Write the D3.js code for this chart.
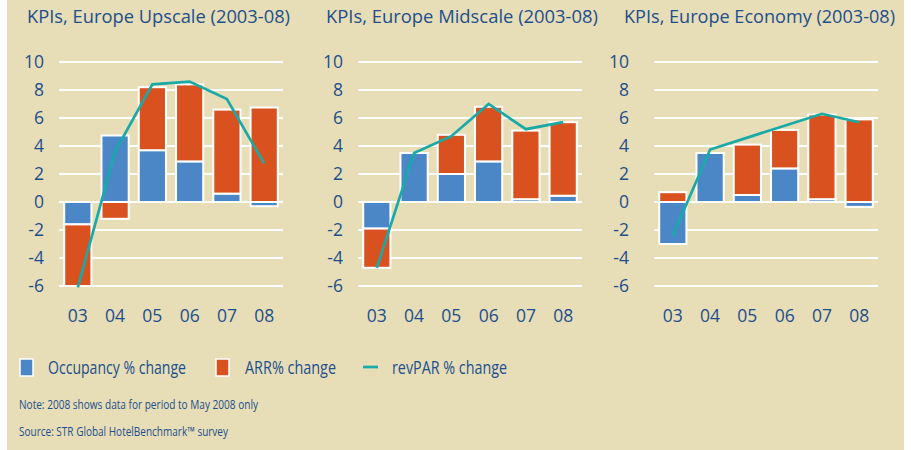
<!DOCTYPE html>
<html><head><meta charset="utf-8">
<script src="https://cdn.jsdelivr.net/npm/d3@7"></script>
<style>body{margin:0;background:#fff}svg{display:block}text{font-family:"Open Sans",sans-serif;fill:#1d4f8e}</style>
</head><body>
<script>
const categories = ["03","04","05","06","07","08"];
const yTicks = [10,8,6,4,2,0,-2,-4,-6];
const panelTitles = ["KPIs, Europe Upscale (2003-08)","KPIs, Europe Midscale (2003-08)","KPIs, Europe Economy (2003-08)"];
const upscaleOcc = [-1.6, 4.75, 3.7, 2.9, 0.6, -0.3];
const upscaleArr = [-4.4, -1.2, 4.5, 5.5, 6.0, 6.75];
const upscaleRev = [-6.1, 3.6, 8.4, 8.6, 7.35, 2.75];
const midOcc = [-1.9, 3.5, 2.0, 2.9, 0.2, 0.45];
const midArr = [-2.8, 0, 2.8, 3.9, 4.9, 5.25];
const midRev = [-4.7, 3.5, 4.7, 7.0, 5.2, 5.7];
const ecoOcc = [-3.0, 3.5, 0.5, 2.4, 0.2, -0.35];
const ecoArr = [0.7, 0, 3.6, 2.75, 6.05, 5.9];
const ecoRev = [-2.4, 3.75, 4.6, 5.45, 6.3, 5.7];
const legendLabels = ["Occupancy % change","ARR% change","revPAR % change"];
const noteText = "Note: 2008 shows data for period to May 2008 only";
const sourceText = "Source: STR Global HotelBenchmark\u2122 survey";

const C = {bg:"#e7ddb6", occ:"#4b87c6", arr:"#d9511f", rev:"#19aaa8"};
const W=911,H=450;
const svg=d3.select("body").append("svg").attr("width",W).attr("height",H);
svg.append("rect").attr("x",7).attr("y",0).attr("width",897).attr("height",H).attr("fill",C.bg);

const panels=[
 {occ:upscaleOcc,arr:upscaleArr,rev:upscaleRev,x0:59,x1:283,lab:44,tx:27,tw:263},
 {occ:midOcc,arr:midArr,rev:midRev,x0:358,x1:582,lab:343,tx:326,tw:272},
 {occ:ecoOcc,arr:ecoArr,rev:ecoRev,x0:654,x1:878,lab:629,tx:624,tw:271}
];
const y=d3.scaleLinear().domain([-6,10]).range([286,62]);

panels.forEach((p,i)=>{
  const g=svg.append("g");
  const x=d3.scaleBand().domain(categories).range([p.x0,p.x1]).paddingInner(0.27).paddingOuter(0.14);
  g.append("text").attr("x",p.tx).attr("y",23).attr("font-size",17.5)
   .attr("textLength",p.tw).attr("lengthAdjust","spacingAndGlyphs").text(panelTitles[i]);
  g.selectAll("line.grid").data(yTicks).join("line")
   .attr("x1",p.x0).attr("x2",p.x1).attr("y1",d=>y(d)).attr("y2",d=>y(d))
   .attr("stroke","#fff").attr("stroke-width",2);
  g.selectAll("text.yl").data(yTicks).join("text")
   .attr("x",p.lab).attr("y",d=>y(d)).attr("dy","0.36em").attr("text-anchor","end")
   .attr("font-size",17.5).text(d=>d);
  const segs=[];
  categories.forEach((c,k)=>{
    let pos=0,neg=0;
    [[p.occ[k],C.occ],[p.arr[k],C.arr]].forEach(([v,col])=>{
      if(v===0) return;
      let a,b;
      if(v>0){a=pos;b=pos+v;pos=b;} else {a=neg;b=neg+v;neg=b;}
      segs.push({c,a,b,col});
    });
  });
  g.selectAll("rect.seg").data(segs).join("rect")
   .attr("x",d=>x(d.c)).attr("width",x.bandwidth())
   .attr("y",d=>y(Math.max(d.a,d.b))).attr("height",d=>Math.abs(y(d.a)-y(d.b)))
   .attr("fill",d=>d.col).attr("stroke","#fff").attr("stroke-width",2);
  const line=d3.line().x((d,k)=>x(categories[k])+x.bandwidth()/2).y(d=>y(d));
  g.append("path").attr("d",line(p.rev)).attr("fill","none").attr("stroke",C.rev).attr("stroke-width",2.7);
  g.selectAll("text.xl").data(categories).join("text")
   .attr("x",d=>x(d)+x.bandwidth()/2).attr("y",322).attr("text-anchor","middle")
   .attr("font-size",17.5).text(d=>d);
});

const lg=svg.append("g");
lg.append("rect").attr("x",20).attr("y",359).attr("width",13).attr("height",17).attr("fill",C.occ).attr("stroke","#fff").attr("stroke-width",1.5);
lg.append("text").attr("x",48).attr("y",367).attr("dy","0.36em").attr("font-size",18.5)
  .attr("textLength",138).attr("lengthAdjust","spacingAndGlyphs").text(legendLabels[0]);
lg.append("rect").attr("x",216).attr("y",359).attr("width",13).attr("height",17).attr("fill",C.arr).attr("stroke","#fff").attr("stroke-width",1.5);
lg.append("text").attr("x",245).attr("y",367).attr("dy","0.36em").attr("font-size",18.5)
  .attr("textLength",91).attr("lengthAdjust","spacingAndGlyphs").text(legendLabels[1]);
lg.append("line").attr("x1",363).attr("x2",378).attr("y1",367).attr("y2",367).attr("stroke",C.rev).attr("stroke-width",2.7);
lg.append("text").attr("x",392).attr("y",367).attr("dy","0.36em").attr("font-size",18.5)
  .attr("textLength",115).attr("lengthAdjust","spacingAndGlyphs").text(legendLabels[2]);
svg.append("text").attr("x",19).attr("y",404).attr("dy","0.36em").attr("font-size",13)
  .attr("textLength",239).attr("lengthAdjust","spacingAndGlyphs").text(noteText);
svg.append("text").attr("x",19).attr("y",431).attr("dy","0.36em").attr("font-size",13)
  .attr("textLength",209).attr("lengthAdjust","spacingAndGlyphs").text(sourceText);
</script>
</body></html>
